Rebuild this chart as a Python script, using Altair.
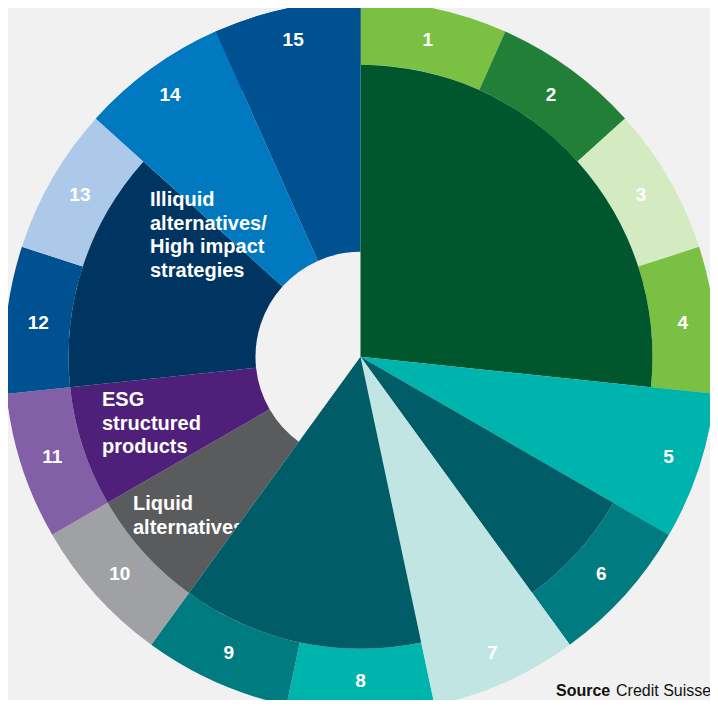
import math
import altair as alt
import pandas as pd

# ---------------- data ----------------
items = [str(i) for i in range(1, 16)]
item_colors = ["#7ac143", "#217f37", "#d4eac0", "#7ac143", "#00b4ae", "#007b80", "#c0e5e2",
               "#00b4ae", "#007b80", "#9fa1a4", "#835fa7", "#005192", "#adc9ea", "#0079c0", "#005192"]

# inner segments: number of outer items each spans
group_sizes = [4, 1, 1, 1, 2, 1, 1, 2, 1, 1]
group_colors = ["#00562d", "#00b4ae", "#005c66", "#c0e5e2", "#005c66",
                "#5a5b5d", "#4e2079", "#003562", "#0079c0", "#005192"]
group_has_hole = [False, False, False, False, False, True, True, True, True, True]
group_full = [False, True, False, True, False, False, False, False, True, True]

label_illiquid = ["Illiquid", "alternatives/", "High impact", "strategies"]
label_esg = ["ESG", "structured", "products"]
label_liquid = ["Liquid", "alternatives"]
source_label = "Source"
source_text = "Credit Suisse"

# ---------------- layout ----------------
R_PX = 356
HOLE, MID, OUTER = 105 / R_PX, 292 / R_PX, 1.0
LABEL_R = 324 / R_PX
CX, CY = 352.5, 348.8
W, H = 702, 692

items_df = pd.DataFrame({
    "item": items,
    "start": list(range(15)),
    "end": [i + 1 for i in range(15)],
    "mid": [i + 0.5 for i in range(15)],
    "r0": [MID] * 15,
    "r1": [OUTER] * 15,
    "r_label": [LABEL_R] * 15,
    "color": item_colors,
})

starts, s = [], 0
for g in group_sizes:
    starts.append(s)
    s += g
groups_df = pd.DataFrame({
    "start": starts,
    "end": [a + b for a, b in zip(starts, group_sizes)],
    "r0": [HOLE if h else 0.0 for h in group_has_hole],
    "r1": [OUTER if f else MID for f in group_full],
    "color": group_colors,
})

theta_scale = alt.Scale(domain=[0, 15], range=[0, 2 * math.pi])
radius_scale = alt.Scale(type="linear", domain=[0, 1], range=[0, R_PX])


def arcs(df):
    return alt.Chart(df).mark_arc(stroke=None).encode(
        theta=alt.Theta("start:Q", scale=theta_scale),
        theta2=alt.Theta2("end:Q"),
        radius=alt.Radius("r1:Q", scale=radius_scale),
        radius2=alt.Radius2("r0:Q"),
        color=alt.Color("color:N", scale=None),
        x=alt.value(CX),
        y=alt.value(CY),
    )


ring = arcs(items_df)
hole_groups = arcs(groups_df[groups_df["r0"] > 0])
center_groups = arcs(groups_df[groups_df["r0"] == 0])

one = pd.DataFrame({"k": [0]})
FONT = "Liberation Sans"


def label(lines, x, y):
    return alt.Chart(one).mark_text(
        text=lines, font=FONT, fontSize=20, fontWeight="bold", color="white",
        align="left", baseline="alphabetic", lineHeight=23.7,
    ).encode(x=alt.value(x), y=alt.value(y))


inner_labels = [
    label(label_illiquid, 142, 198),
    label(label_esg, 94, 398),
    label(label_liquid, 125, 502),
]

numbers = alt.Chart(items_df).mark_text(
    font=FONT, fontSize=19, fontWeight="bold", color="white", align="center", baseline="middle",
).encode(
    theta=alt.Theta("mid:Q", scale=theta_scale),
    radius=alt.Radius("r_label:Q", scale=radius_scale),
    text="item:N",
    x=alt.value(CX),
    y=alt.value(CY),
)

source_bold = alt.Chart(one).mark_text(
    text=source_label, font=FONT, fontSize=16, fontWeight="bold", color="#111111",
    align="left", baseline="alphabetic",
).encode(x=alt.value(548), y=alt.value(688))
source_rest = alt.Chart(one).mark_text(
    text=source_text, font=FONT, fontSize=16, color="#111111",
    align="left", baseline="alphabetic",
).encode(x=alt.value(608), y=alt.value(688))

chart = alt.layer(
    ring, hole_groups, *inner_labels, center_groups, numbers, source_bold, source_rest
).properties(
    width=W, height=H, autosize="none", padding=0, background="#f1f1f1",
).configure_view(stroke=None)

chart.save("out.html", embed_options={"renderer": "svg", "actions": False})
